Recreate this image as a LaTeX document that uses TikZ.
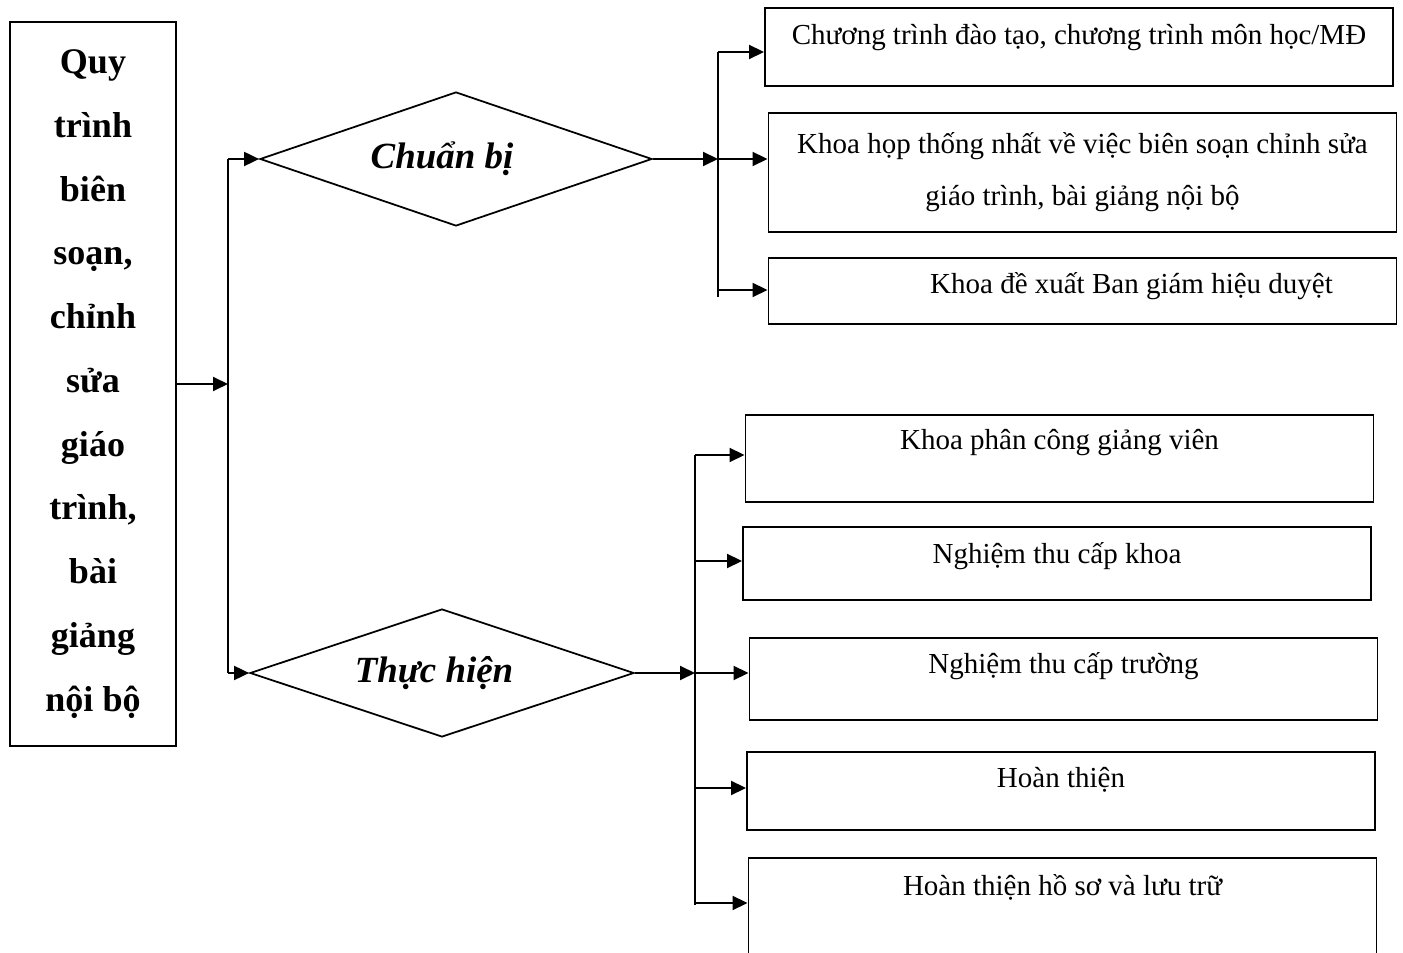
\documentclass[tikz,border=0pt]{standalone}
\usepackage{fontspec}
\setmainfont{Liberation Serif}
\usetikzlibrary{arrows.meta,shapes.geometric,calc}

\begin{document}
\begin{tikzpicture}[x=0.2mm,y=-0.2mm,
  box/.style={draw,line width=1.1pt,inner sep=0pt,minimum width=12.56cm,
    align=center,font=\fontsize{16.5}{29.5}\selectfont},
  dia/.style={diamond,draw,line width=1pt,inner sep=0pt,aspect=2.9,
    font=\fontsize{21}{25}\selectfont\bfseries\itshape},
  arr/.style={-{Triangle[length=3mm,width=2.8mm]},line width=1.1pt},
  trunk/.style={line width=1.1pt}]

\useasboundingbox (0,0) rectangle (1403,953);
\clip (0,0) rectangle (1403,953);

% title box
\node[draw,line width=1.1pt,minimum width=3.32cm,minimum height=14.48cm,align=center,
  inner sep=0pt,font=\fontsize{20.5}{36.3}\selectfont\bfseries] (proc) at (93,384)
  {Quy\\trình\\biên\\soạn,\\chỉnh\\sửa\\giáo\\trình,\\bài\\giảng\\nội bộ};

% two phases
\node[dia,minimum width=7.84cm,minimum height=2.68cm] (prep) at (456,159) {Chuẩn bị\hspace*{0.56cm}};
\node[dia,minimum width=7.68cm,minimum height=2.56cm] (exec) at (442,673) {Thực hiện\hspace*{0.32cm}};

% preparation steps
\node[box,anchor=base,text height=0.74cm,text depth=0.82cm] (b1) at (1079,45)
  {Chương trình đào tạo, chương trình môn học/MĐ};
\node[box,minimum height=2.38cm] (b2) at (1082.5,172.5)
  {Khoa họp thống nhất về việc biên soạn chỉnh sửa\\giáo trình, bài giảng nội bộ};
\node[box,anchor=base,text height=0.72cm,text depth=0.60cm] (b3) at (1082.5,294)
  {\hspace*{1.96cm}Khoa đề xuất Ban giám hiệu duyệt};

% execution steps
\node[box,anchor=base,text height=0.70cm,text depth=1.04cm] (b4) at (1059.5,450) {Khoa phân công giảng viên};
\node[box,anchor=base,text height=0.74cm,text depth=0.72cm] (b5) at (1057,564) {Nghiệm thu cấp khoa};
\node[box,anchor=base,text height=0.72cm,text depth=0.92cm] (b6) at (1063.5,674) {Nghiệm thu cấp trường};
\node[box,anchor=base,text height=0.70cm,text depth=0.86cm] (b7) at (1061,787) {Hoàn thiện};
\node[box,anchor=base,text height=0.74cm,text depth=2.10cm] (b8) at (1062.5,895) {Hoàn thiện hồ sơ và lưu trữ};

% split after title
\coordinate (s0) at (228,384);
\coordinate (s0t) at (228,159);
\coordinate (s0b) at (228,673);
\draw[arr] (proc.east |- s0) -- (s0);
\draw[trunk] (s0t) -- (s0b);
\draw[arr] (s0t) -- (prep.west);
\draw[arr] (s0b) -- (exec.west);

% split after Chuan bi
\coordinate (s1) at (718,159);
\coordinate (s1a) at (718,52);
\coordinate (s1c) at (718,290);
\coordinate (s1e) at (718,297);
\draw[arr] (prep.east) -- (s1);
\draw[trunk] (s1a) -- (s1e);
\draw[arr] (s1a) -- (s1a -| b1.west);
\draw[arr] (s1) -- (s1 -| b2.west);
\draw[arr] (s1c) -- (s1c -| b3.west);

% split after Thuc hien
\coordinate (s2) at (695,673);
\coordinate (s2a) at (695,455);
\coordinate (s2b) at (695,561);
\coordinate (s2d) at (695,788);
\coordinate (s2e) at (695,903);
\coordinate (s2f) at (695,905);
\draw[arr] (exec.east) -- (s2);
\draw[trunk] (s2a) -- (s2f);
\draw[arr] (s2a) -- (s2a -| b4.west);
\draw[arr] (s2b) -- (s2b -| b5.west);
\draw[arr] (s2) -- (s2 -| b6.west);
\draw[arr] (s2d) -- (s2d -| b7.west);
\draw[arr] (s2e) -- (s2e -| b8.west);
\end{tikzpicture}
\end{document}
